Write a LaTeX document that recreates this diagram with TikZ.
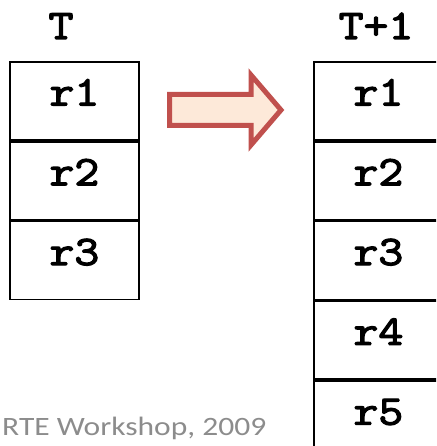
\documentclass[tikz,border=0pt]{standalone}
\usepackage{fontspec}
\newfontfamily\codefont{Latin Modern Mono}[FakeBold=3, FakeStretch=1.15]
\newfontfamily\notefont{Carlito}
\definecolor{arrowedge}{HTML}{C0504D}
\definecolor{arrowfill}{HTML}{FDE9D9}
\definecolor{notegray}{HTML}{8C8C8C}
\tikzset{
  cell/.style={draw=black, line width=1.8pt, minimum width=129pt, inner sep=0pt,
    text height=43.5pt, text depth=34.5pt,
    font=\codefont\fontsize{42}{42}\selectfont},
  title/.style={inner sep=0pt, anchor=base,
    font=\codefont\fontsize{42}{42}\selectfont},
  note/.style={inner sep=0pt, anchor=base west, text=notegray,
    font=\notefont\fontsize{26.5}{26.5}\selectfont}
}
\begin{document}
\begin{tikzpicture}[x=1pt,y=-1pt]
  \useasboundingbox (0,0) rectangle (436,446);
  \clip (0,0) rectangle (436,446);
  % column titles
  \node[title] (tl) at (61,39) {T};
  \node[title] (tr) at (376,39) {T+1};
  % table at time T
  \node[cell, anchor=north west] (a1) at (9,61) {r1};
  \node[cell, anchor=north] (a2) at (a1.south) {r2};
  \node[cell, anchor=north] (a3) at (a2.south) {r3};
  % table at time T+1
  \node[cell, anchor=north west] (b1) at (313,61) {r1};
  \node[cell, anchor=north] (b2) at (b1.south) {r2};
  \node[cell, anchor=north] (b3) at (b2.south) {r3};
  \node[cell, anchor=north] (b4) at (b3.south) {r4};
  \node[cell, anchor=north] (b5) at (b4.south) {r5};
  % block arrow between the two states
  \draw[draw=arrowedge, fill=arrowfill, line width=5pt, line join=miter]
    (169.5,94.5) -- (251,94.5) -- (251,75) -- (281,110) -- (251,145)
    -- (251,125.5) -- (169.5,125.5) -- cycle;
  % footer
  \node[note] (foot) at (2,435) {\scalebox{1.19}[1]{RTE Workshop, 2009}};
\end{tikzpicture}
\end{document}
